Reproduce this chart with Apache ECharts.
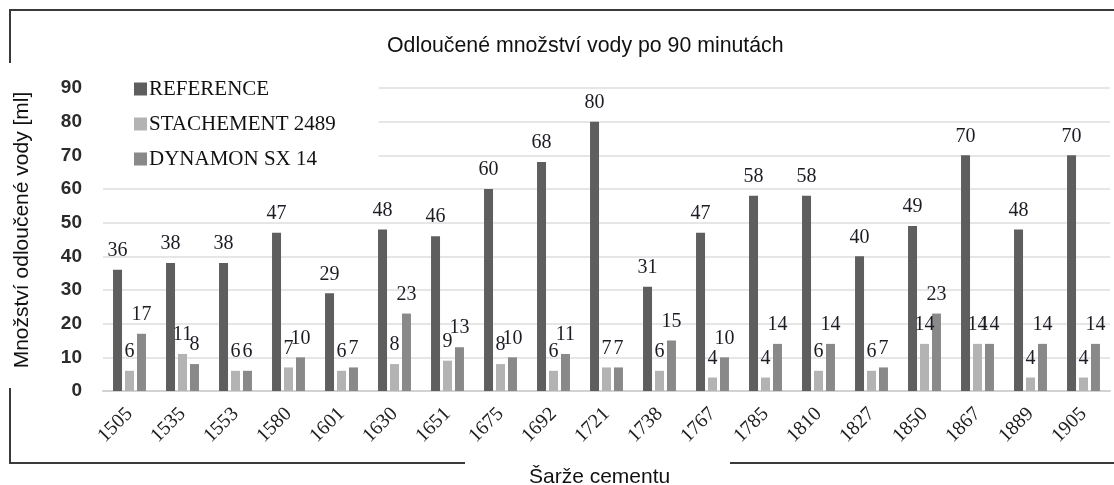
<!DOCTYPE html>
<html>
<head>
<meta charset="utf-8">
<script src="https://cdn.jsdelivr.net/npm/echarts@6/dist/echarts.min.js"></script>
<style>
  html, body { margin: 0; padding: 0; background: #fff; }
  #chart { width: 1114px; height: 485px; }
</style>
</head>
<body>
<div id="chart"></div>
<script>
// cement batches
const batches = ['1505', '1535', '1553', '1580', '1601', '1630', '1651', '1675', '1692', '1721',
  '1738', '1767', '1785', '1810', '1827', '1850', '1867', '1889', '1905'];

const reference = [36, 38, 38, 47, 29, 48, 46, 60, 68, 80, 31, 47, 58, 58, 40, 49, 70, 48, 70];
const stachement = [6, 11, 6, 7, 6, 8, 9, 8, 6, 7, 6, 4, 4, 6, 6, 14, 14, 4, 4];
const dynamon = [17, 8, 6, 10, 7, 23, 13, 10, 11, 7, 15, 10, 14, 14, 7, 23, 14, 14, 14];

const SERIF = '"Liberation Serif", "Times New Roman", serif';
const SANS = '"Liberation Sans", Arial, sans-serif';

const chart = echarts.init(document.getElementById('chart'));

const barLabel = {
  show: true,
  position: 'top',
  distance: 9,
  fontFamily: SERIF,
  fontSize: 20,
  color: '#1c1c24'
};

function makeSeries(name, data, color) {
  return {
    name: name,
    type: 'bar',
    data: data,
    barWidth: 9,
    barGap: '33%',
    itemStyle: { color: color },
    label: barLabel
  };
}

const frame = { stroke: '#3a3a3a', lineWidth: 2 };

chart.setOption({
  animation: false,
  title: [
    {
      text: 'Odloučené množství vody po 90 minutách',
      left: 382,
      top: 31,
      textStyle: { fontFamily: SANS, fontSize: 21.3, fontWeight: 'normal', color: '#111' }
    },
    {
      text: 'Šarže cementu',
      left: 524,
      top: 462,
      textStyle: { fontFamily: SANS, fontSize: 21, fontWeight: 'normal', color: '#111' }
    }
  ],
  legend: {
    orient: 'vertical',
    left: 103,
    top: 68,
    padding: [10, 43, 10, 31],
    backgroundColor: '#fff',
    itemWidth: 13,
    itemHeight: 13,
    itemGap: 13,
    icon: 'rect',
    textStyle: { fontFamily: SERIF, fontSize: 21, color: '#111', lineHeight: 22, padding: [0, 0, 0, -3] }
  },
  grid: { left: 103, right: 4, top: 88, bottom: 94, containLabel: false },
  xAxis: {
    type: 'category',
    data: batches,
    axisTick: { show: false },
    axisLine: { lineStyle: { color: '#d2d2d2', width: 2 } },
    axisLabel: {
      rotate: 45,
      margin: 20,
      interval: 0,
      fontFamily: SERIF,
      fontSize: 20,
      color: '#222'
    }
  },
  yAxis: {
    type: 'value',
    min: 0,
    max: 90,
    interval: 10,
    axisLine: { show: false },
    axisTick: { show: false },
    axisLabel: { margin: 21, fontFamily: SANS, fontSize: 19, fontWeight: 'bold', color: '#2b2b2b' },
    splitLine: { lineStyle: { color: '#dedede', width: 1.5 } }
  },
  series: [
    makeSeries('REFERENCE', reference, '#5e5e5e'),
    makeSeries('STACHEMENT 2489', stachement, '#b3b3b3'),
    makeSeries('DYNAMON SX 14', dynamon, '#898989')
  ],
  graphic: [
    {
      type: 'text',
      x: 22,
      y: 230,
      rotation: Math.PI / 2,
      style: {
        text: 'Množství odloučené vody [ml]',
        fontFamily: SANS,
        fontSize: 21,
        fill: '#111',
        textAlign: 'center',
        textVerticalAlign: 'middle'
      }
    },
    { type: 'line', shape: { x1: 10, y1: 10, x2: 1114, y2: 10 }, style: frame },
    { type: 'line', shape: { x1: 10, y1: 9, x2: 10, y2: 63 }, style: frame },
    { type: 'line', shape: { x1: 10, y1: 388, x2: 10, y2: 464 }, style: frame },
    { type: 'line', shape: { x1: 9, y1: 463, x2: 465, y2: 463 }, style: frame },
    { type: 'line', shape: { x1: 730, y1: 463, x2: 1114, y2: 463 }, style: frame }
  ]
});
</script>
</body>
</html>
